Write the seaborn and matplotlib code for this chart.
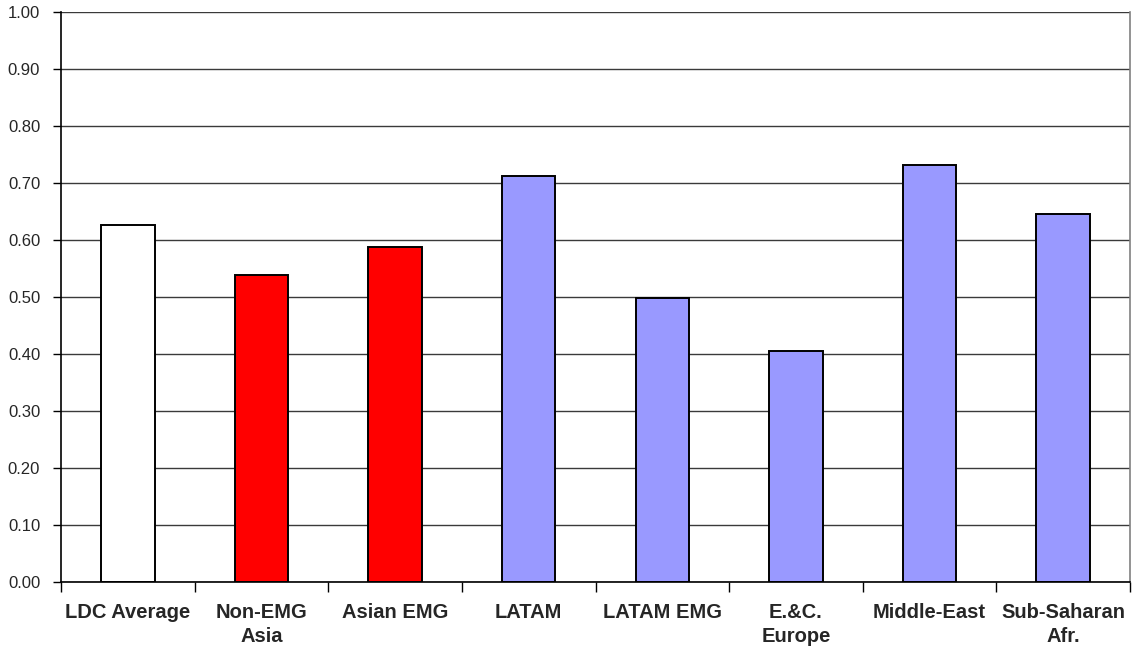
import matplotlib
matplotlib.use("Agg")
import matplotlib.pyplot as plt
import seaborn as sns
import numpy as np

categories = ["LDC Average", "Non-EMG\nAsia", "Asian EMG", "LATAM", "LATAM EMG",
              "E.&C.\nEurope", "Middle-East", "Sub-Saharan\nAfr."]
values = [0.626, 0.539, 0.587, 0.713, 0.498, 0.406, 0.732, 0.646]
colors = ["#FFFFFF", "#FF0000", "#FF0000", "#9999FF", "#9999FF", "#9999FF", "#9999FF", "#9999FF"]
yticks = [0.0, 0.1, 0.2, 0.3, 0.4, 0.5, 0.6, 0.7, 0.8, 0.9, 1.0]

sns.set_style("white")
plt.rcParams['font.family'] = ['Liberation Sans', 'DejaVu Sans']

fig = plt.figure(figsize=(11.33, 6.52), dpi=100)
ax = fig.add_axes([61/1133, 1 - 582/652, (1130-61)/1133, (582-12)/652])

sns.barplot(x=categories, y=values, hue=categories, palette=colors, width=0.4,
            edgecolor="black", linewidth=1.4, legend=False, ax=ax, saturation=1)

ax.set_xlim(-0.5, len(categories) - 0.5)
ax.set_ylim(0, 1.0)
ax.set_yticks(yticks)
ax.set_yticklabels([f"{t:.2f}" for t in yticks], fontsize=12)
ax.yaxis.grid(True, color="#3a3a3a", linewidth=1.0)
ax.set_axisbelow(True)

ax.set_xticks(range(len(categories)))
ax.set_xticklabels(categories, fontsize=14.5, fontweight="bold", linespacing=1.35)
ax.tick_params(axis="x", which="major", length=0, pad=15)
ax.set_xticks(np.arange(-0.5, len(categories)), minor=True)
ax.tick_params(axis="x", which="minor", length=7, width=1, color="black", direction="out", bottom=True)
ax.tick_params(axis="y", which="major", length=6, width=1, color="black", direction="out", left=True, pad=9)

for s in ["left", "bottom"]:
    ax.spines[s].set_color("black")
    ax.spines[s].set_linewidth(1.2)
ax.spines["right"].set_color("#808080")
ax.spines["right"].set_linewidth(1.2)
ax.spines["top"].set_visible(False)
ax.set_xlabel("")
ax.set_ylabel("")

fig.savefig("out.png", dpi=100)
